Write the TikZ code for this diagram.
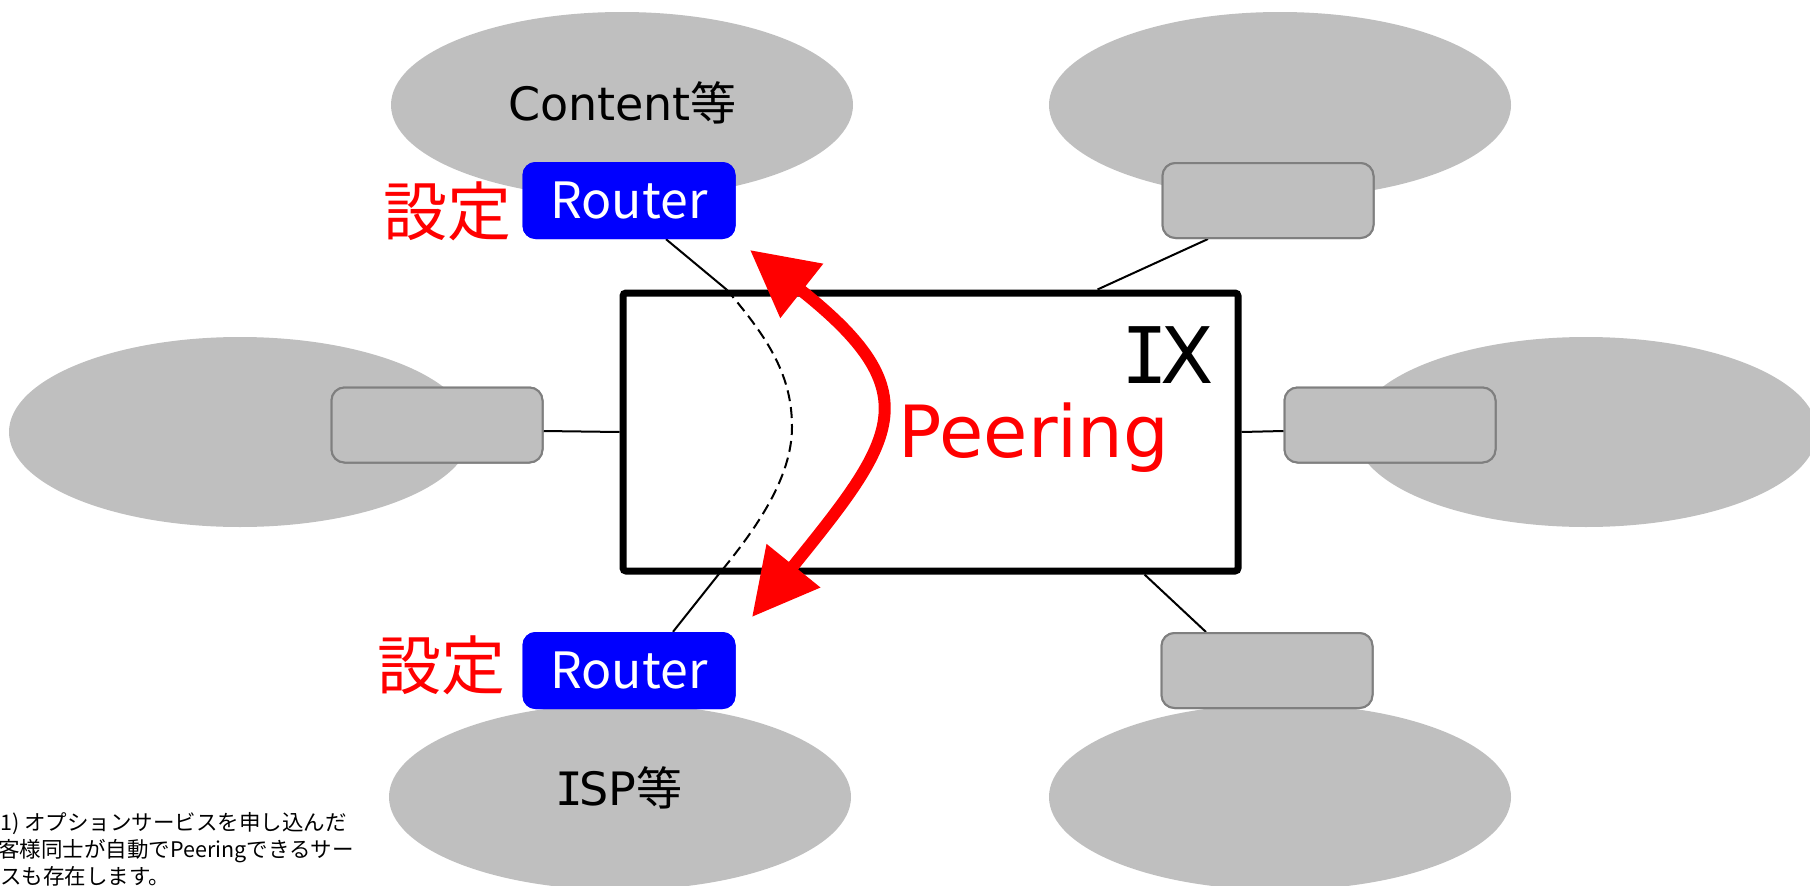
\documentclass[tikz,border=0pt]{standalone}
\usepackage{fontspec}
\setmainfont{DejaVu Sans}
\newfontfamily\jpfont{Noto Sans CJK JP}
\newfontfamily\monoI{DejaVu Sans Mono}
\usetikzlibrary{shapes.geometric,arrows.meta}
\definecolor{cloudgray}{HTML}{BFBFBF}
\definecolor{edgegray}{HTML}{7F7F7F}
\definecolor{pureblue}{HTML}{0000FF}
\definecolor{purered}{HTML}{FF0000}
\begin{document}
\begin{tikzpicture}[x=1pt,y=-1pt,
  cloudshape/.style={ellipse, fill=cloudgray, draw=none, minimum width=462pt, minimum height=186pt, inner sep=0pt},
  greybox/.style={rectangle, rounded corners=13pt, fill=cloudgray, draw=edgegray, line width=2pt, minimum width=211pt, minimum height=75pt, inner sep=0pt},
  bluebox/.style={rectangle, rounded corners=13pt, fill=pureblue, draw=none, minimum width=213pt, minimum height=77pt, inner sep=0pt, text=white, font=\jpfont\fontsize{50}{60}\selectfont},
  wire/.style={draw=black, line width=2pt},
  dashwire/.style={draw=black, line width=2pt, dash pattern=on 11pt off 6pt},
  ixbox/.style={rectangle, draw=black, fill=white, line width=7pt, rounded corners=3pt, minimum width=615pt, minimum height=278pt, inner sep=0pt},
  redlabel/.style={text=purered, inner sep=0pt, font=\jpfont\fontsize{64}{70}\selectfont},
  cloudlabel/.style={anchor=base, inner sep=0pt, font=\fontsize{46}{52}\selectfont},
  notetext/.style={anchor=base west, inner sep=0pt, font=\jpfont\fontsize{21.5}{27}\selectfont},
  peerarrow/.style={draw=purered, line width=12pt, {Triangle[length=66pt,width=66pt]}-{Triangle[length=66pt,width=66pt]}}
]
\useasboundingbox (0,0) rectangle (1810,886);

% clouds
\node[cloudshape] (ctl) at (622,105) {};
\node[cloudshape] (ctr) at (1280,105) {};
\node[cloudshape, minimum height=190pt] (cl) at (240,432) {};
\node[cloudshape, minimum height=190pt] (cr) at (1586,432) {};
\node[cloudshape] (cbl) at (620,797) {};
\node[cloudshape] (cbr) at (1280,797) {};

% boxes (positions)
\node[bluebox] (rtop) at (629,200.5) {Router};
\node[bluebox] (rbot) at (629,670.5) {Router};
\node[greybox] (trbox) at (1268,200.5) {};
\node[greybox] (lbox) at (437,425) {};
\node[greybox] (rbox) at (1390,425) {};
\node[greybox] (brbox) at (1267,670.5) {};

% IX box placed as coordinate frame
\path (930.5,432) node[ixbox, draw=none, fill=none] (ix) {};

% solid connectors (under IX border)
\draw[wire] ([xshift=37pt]rtop.south) -- ([xshift=107pt]ix.north west) coordinate (cA);
\draw[wire] ([xshift=99pt]ix.south west) coordinate (cB) -- ([xshift=44pt]rbot.north);
\draw[wire] ([xshift=-60pt]trbox.south) -- ([xshift=478pt]ix.north west);
\draw[wire] ([yshift=-6pt]lbox.east) -- (ix.west);
\draw[wire] (ix.east) -- ([yshift=-6pt]rbox.west);
\draw[wire] ([xshift=525pt]ix.south west) -- ([xshift=-61pt]brbox.north);

% IX box
\node[ixbox] (ixdraw) at (ix.center) {};

% dashed path inside IX
\draw[dashwire] (cA) .. controls (770,340) and (792,377) .. (792,427) coordinate (cM)
  .. controls (792,477) and (757,528) .. (cB);

% redraw boxes on top of connectors
\node[bluebox] (rtop2) at (rtop.center) {Router};
\node[bluebox] (rbot2) at (rbot.center) {Router};
\node[greybox] (trbox2) at (trbox.center) {};
\node[greybox] (lbox2) at (lbox.center) {};
\node[greybox] (rbox2) at (rbox.center) {};
\node[greybox] (brbox2) at (brbox.center) {};

% peering arrow
\coordinate (pT) at (750,250);
\coordinate (pB) at (752,617);
\draw[peerarrow] (pT) .. controls (931,393) and (896,439) .. (pB);

% labels
\node[cloudlabel] (contenttxt) at (622.5,120) {Content{\jpfont 等}};
\node[cloudlabel] (isptxt) at (621,805) {{\monoI\kern-0.08em I\kern-0.08em}SP{\jpfont 等}};
\node[anchor=base, inner sep=0pt, font=\fontsize{78}{90}\selectfont] (ixtxt) at (1172,383) {{\monoI\kern-0.1em I\kern-0.1em}X};
\node[anchor=base, inner sep=0pt, text=purered, font=\fontsize{72}{80}\selectfont] (peertxt) at (1034,457) {Peering};
\node[redlabel] (settop) at (447.5,211.5) {設定};
\node[redlabel] (setbot) at (441.5,665) {設定};

% footnote
\node[notetext] (note1) at (0,830) {1) オプションサービスを申し込んだ};
\node[notetext] (note2) at (-2,857) {客様同士が自動でPeeringできるサー};
\node[notetext] (note3) at (0,884) {スも存在します。};
\end{tikzpicture}
\end{document}
